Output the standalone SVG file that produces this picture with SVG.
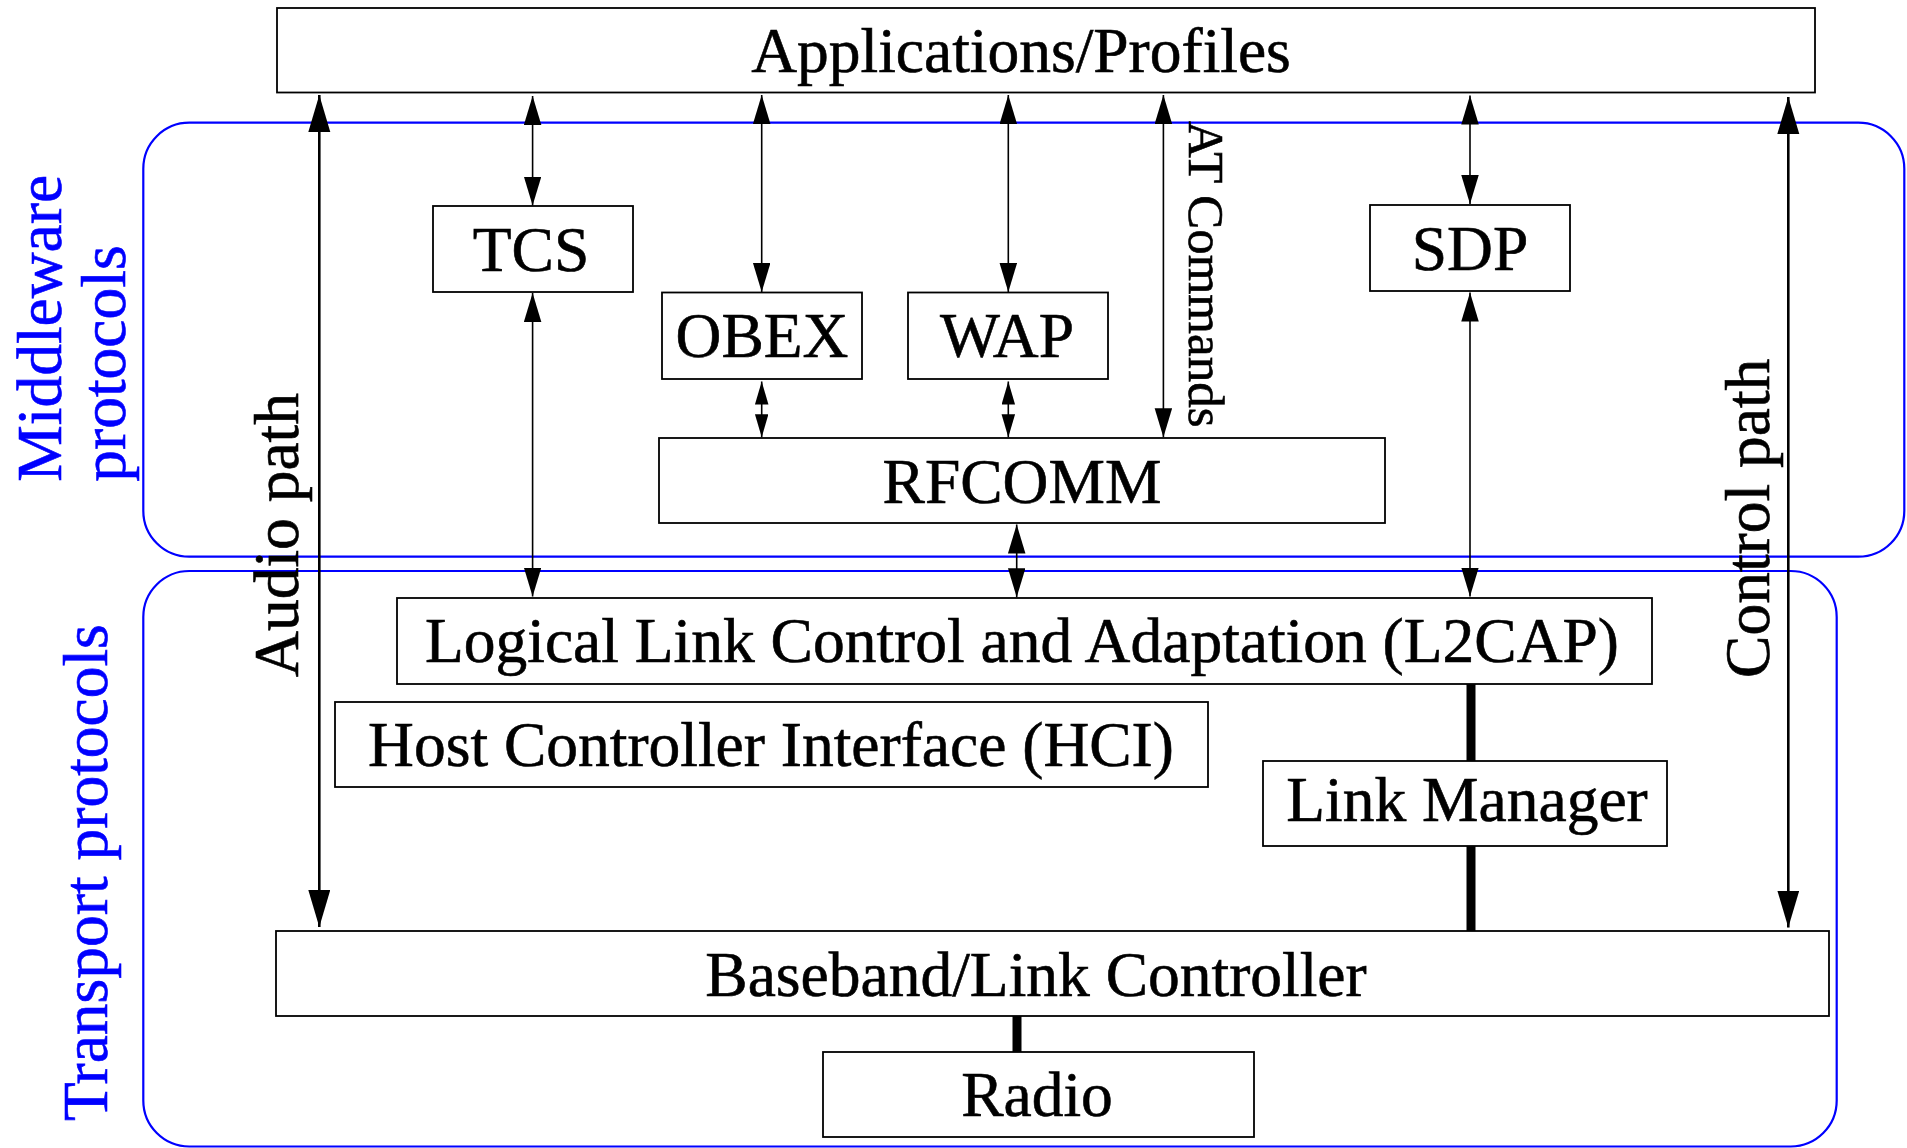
<svg xmlns="http://www.w3.org/2000/svg" width="1907" height="1148" viewBox="0 0 1907 1148">
<defs>
<style>
.grp{fill:none;stroke:#0000ff;stroke-width:2.2}
.box{fill:#ffffff;stroke:#000000;stroke-width:1.8}
.t{font-family:"Liberation Serif","Times New Roman",serif;font-size:63.5px;fill:#000000;stroke:#000000;stroke-width:0.6;text-anchor:middle}
.bl{fill:#0000ff;stroke:#0000ff}
.thin{stroke:#000000;stroke-width:1.6;fill:none;marker-start:url(#ah);marker-end:url(#ah)}
.small{stroke:#000000;stroke-width:1.6;fill:none;marker-start:url(#ahs);marker-end:url(#ahs)}
.thick{stroke:#000000;stroke-width:2.6;fill:none;marker-start:url(#ahb);marker-end:url(#ahb)}
.bar{stroke:#000000;stroke-width:9;fill:none}
</style>
<marker id="ah" markerUnits="userSpaceOnUse" markerWidth="30" markerHeight="18" refX="29" refY="8.75" orient="auto-start-reverse"><path d="M0,0 L29,8.75 L0,17.5 Z" fill="#000"/></marker>
<marker id="ahs" markerUnits="userSpaceOnUse" markerWidth="24" markerHeight="14" refX="23" refY="6.75" orient="auto-start-reverse"><path d="M0,0 L23,6.75 L0,13.5 Z" fill="#000"/></marker>
<marker id="ahb" markerUnits="userSpaceOnUse" markerWidth="38" markerHeight="23" refX="37" refY="11" orient="auto-start-reverse"><path d="M0,0 L37,11 L0,22 Z" fill="#000"/></marker>
</defs>
<g id="groups">
<rect id="middleware-group" class="grp" x="143.3" y="122.7" width="1761" height="434" rx="46" ry="46"/>
<rect id="transport-group" class="grp" x="143.3" y="571" width="1693.4" height="575.5" rx="46" ry="46"/>
</g>
<g id="applications"><rect class="box" x="277" y="8" width="1538" height="84.5"/><text class="t" x="1021" y="72">Applications/Profiles</text></g>
<g id="tcs"><rect class="box" x="433" y="206" width="200" height="86"/><text class="t" x="531" y="271">TCS</text></g>
<g id="obex"><rect class="box" x="662" y="292.5" width="200" height="86.5"/><text class="t" x="762" y="357">OBEX</text></g>
<g id="wap"><rect class="box" x="908" y="292.5" width="200" height="86.5"/><text class="t" x="1007" y="357">WAP</text></g>
<g id="sdp"><rect class="box" x="1370" y="205" width="200" height="86"/><text class="t" x="1470" y="270">SDP</text></g>
<g id="rfcomm"><rect class="box" x="659" y="438" width="726" height="85"/><text class="t" x="1022" y="503">RFCOMM</text></g>
<g id="l2cap"><rect class="box" x="397" y="598" width="1255" height="86"/><text class="t" x="1022" y="661.5">Logical Link Control and Adaptation (L2CAP)</text></g>
<g id="hci"><rect class="box" x="335" y="702" width="873" height="85"/><text class="t" x="771" y="766">Host Controller Interface (HCI)</text></g>
<g id="link-manager"><rect class="box" x="1263" y="761" width="404" height="85"/><text class="t" x="1467" y="821">Link Manager</text></g>
<g id="baseband"><rect class="box" x="276" y="931" width="1553" height="85"/><text class="t" x="1036" y="995.5">Baseband/Link Controller</text></g>
<g id="radio"><rect class="box" x="823" y="1052" width="431" height="85"/><text class="t" x="1037" y="1115.5">Radio</text></g>
<g id="connectors">
<line class="thick" x1="319.3" y1="95" x2="319.3" y2="927"/>
<line class="thick" x1="1788.3" y1="97" x2="1788.3" y2="927.5"/>
<line class="thin" x1="532.6" y1="96" x2="532.6" y2="205.5"/>
<line class="thin" x1="532.6" y1="293" x2="532.6" y2="596.5"/>
<line class="thin" x1="761.7" y1="95" x2="761.7" y2="292"/>
<line class="small" x1="761.7" y1="381.5" x2="761.7" y2="437.3"/>
<line class="thin" x1="1008.3" y1="95" x2="1008.3" y2="292"/>
<line class="small" x1="1008.3" y1="381.5" x2="1008.3" y2="437.3"/>
<line class="thin" x1="1163.4" y1="95" x2="1163.4" y2="437.3"/>
<line class="thin" x1="1470" y1="95.5" x2="1470" y2="204"/>
<line class="thin" x1="1470" y1="292.5" x2="1470" y2="596.5"/>
<line class="thin" x1="1016.7" y1="524.5" x2="1016.7" y2="597.3"/>
<line class="bar" x1="1471" y1="684" x2="1471" y2="761"/>
<line class="bar" x1="1471" y1="846" x2="1471" y2="931"/>
<line class="bar" x1="1017" y1="1016" x2="1017" y2="1052"/>
</g>
<g id="labels">
<text class="t bl" style="text-anchor:start" transform="translate(60.7,481.7) rotate(-90)">Middleware</text>
<text class="t bl" style="text-anchor:start" transform="translate(125,481.7) rotate(-90)">protocols</text>
<text class="t bl" transform="translate(106.7,872.6) rotate(-90)">Transport protocols</text>
<text class="t" transform="translate(298.3,535) rotate(-90)">Audio path</text>
<text class="t" transform="translate(1768.5,518.3) rotate(-90)">Control path</text>
<text class="t" style="text-anchor:start;font-size:51px" transform="translate(1189,121) rotate(90)">AT Commands</text>
</g>
</svg>
